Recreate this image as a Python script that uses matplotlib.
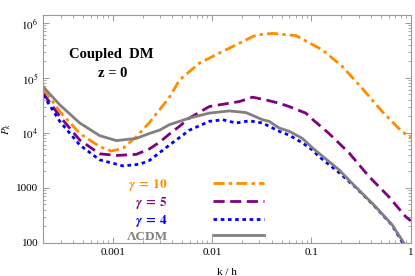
import numpy as np
import matplotlib
matplotlib.use("Agg")
import matplotlib.pyplot as plt
from matplotlib.ticker import FixedLocator, FuncFormatter, LogLocator, NullFormatter

plt.rcParams['font.family'] = ['Liberation Serif', 'DejaVu Serif']
plt.rcParams['mathtext.fontset'] = 'stix'

# log10(P_k)
k_lcdm = [2e-4, 2.94e-4, 4.67e-4, 7.41e-4, 1.09e-3, 1.73e-3, 2.35e-3, 2.96e-3, 3.73e-3, 5.92e-3, 9.4e-3,
          1.49e-2, 2.19e-2, 3.22e-2, 3.76e-2, 4.73e-2, 5.96e-2, 8.11e-2, 0.102, 0.119, 0.189, 0.278,
          0.441, 0.648, 0.849, 1.0]
p_lcdm = [4.84, 4.51, 4.18, 3.95, 3.86, 3.90, 3.99, 4.05, 4.15, 4.27, 4.36,
          4.40, 4.37, 4.24, 4.21, 4.09, 4.03, 3.90, 3.73, 3.63, 3.33, 3.02,
          2.66, 2.33, 2.00, 1.78]

k_g4 = [2e-4, 2.94e-4, 4.67e-4, 7.41e-4, 1.27e-3, 1.87e-3, 2.35e-3, 2.96e-3, 3.73e-3, 5.92e-3, 9.4e-3,
        1.28e-2, 1.74e-2, 2.37e-2, 3.22e-2, 3.76e-2, 4.73e-2, 5.96e-2, 8.11e-2, 0.102, 0.119, 0.189,
        0.278, 0.441, 0.648, 0.816, 1.0]
p_g4 = [4.69, 4.21, 3.78, 3.51, 3.40, 3.43, 3.50, 3.64, 3.78, 4.05, 4.21,
        4.24, 4.18, 4.22, 4.18, 4.12, 4.03, 3.96, 3.82, 3.69, 3.57, 3.28,
        3.01, 2.65, 2.32, 2.02, 1.78]

k_g5 = [2e-4, 2.94e-4, 4.67e-4, 7.41e-4, 1.09e-3, 1.73e-3, 2.35e-3, 2.96e-3, 3.73e-3, 4.7e-3, 5.92e-3,
        9.4e-3, 1.49e-2, 1.88e-2, 2.55e-2, 3.48e-2, 4.73e-2, 5.96e-2, 8.77e-2, 0.102, 0.150, 0.238,
        0.378, 0.600, 0.883, 1.0]
p_g5 = [4.72, 4.30, 3.87, 3.62, 3.59, 3.61, 3.71, 3.83, 3.98, 4.12, 4.27,
        4.48, 4.54, 4.57, 4.65, 4.60, 4.54, 4.48, 4.36, 4.25, 3.99, 3.64,
        3.21, 2.84, 2.48, 2.40]

k_g10 = [2e-4, 2.94e-4, 4.67e-4, 7.41e-4, 9.7e-4, 1.27e-3, 1.73e-3, 2.35e-3, 2.96e-3, 3.73e-3, 4.7e-3,
         7.46e-3, 1.18e-2, 1.88e-2, 2.76e-2, 4.03e-2, 6.96e-2, 0.129, 0.204, 0.324, 0.514, 0.816, 1.0]
p_g10 = [4.81, 4.39, 3.99, 3.75, 3.67, 3.72, 3.93, 4.19, 4.42, 4.65, 4.96,
         5.27, 5.45, 5.63, 5.78, 5.81, 5.77, 5.51, 5.21, 4.81, 4.39, 4.02, 3.92]

labels = [r'$\mathbfit{\gamma}\;\mathbf{=}\;\mathbf{10}$', r'$\mathbfit{\gamma}\;\mathbf{=}\;\mathbf{5}$',
          r'$\mathbfit{\gamma}\;\mathbf{=}\;\mathbf{4}$', 'ΛCDM']

fig = plt.figure(figsize=(4.15, 2.76), dpi=100)
ax = fig.add_axes([0.104, 0.120, 0.886, 0.826])

ax.plot(k_g10, 10 ** np.array(p_g10), color='#ff8c00', lw=2, dashes=[4, 1.5, 1.2, 1.5], label=labels[0])
ax.plot(k_g5, 10 ** np.array(p_g5), color='#800080', lw=2, dashes=[4, 2], label=labels[1])
ax.plot(k_g4, 10 ** np.array(p_g4), color='#0000ff', lw=2, dashes=[1.3, 1.3], label=labels[2])
ax.plot(k_lcdm, 10 ** np.array(p_lcdm), color='#808080', lw=2, label=labels[3])

ax.set_xscale('log')
ax.set_yscale('log')
ax.set_xlim(2e-4, 1)
ax.set_ylim(100, 1.4e6)

ax.xaxis.set_major_locator(FixedLocator([1e-3, 1e-2, 1e-1, 1]))
ax.xaxis.set_major_formatter(FuncFormatter(lambda v, p: {1e-3: '0.001', 1e-2: '0.01', 1e-1: '0.1', 1: '1'}.get(v, '')))
ax.xaxis.set_minor_locator(LogLocator(base=10, subs=np.arange(2, 10)))
ax.xaxis.set_minor_formatter(NullFormatter())

ytick_labels = {100: '100', 1000: '1000', 1e4: r'$10^4$', 1e5: r'$10^5$', 1e6: r'$10^6$'}
ax.yaxis.set_major_locator(FixedLocator(list(ytick_labels.keys())))
ax.yaxis.set_major_formatter(FuncFormatter(lambda v, p: ytick_labels.get(v, '')))
ax.yaxis.set_minor_locator(LogLocator(base=10, subs=np.arange(2, 10)))
ax.yaxis.set_minor_formatter(NullFormatter())

ax.tick_params(which='both', direction='in', top=True, right=True, color='#888888', labelsize=8)
ax.tick_params(which='major', length=4, width=0.6)
ax.tick_params(which='minor', length=2, width=0.5)
for s in ax.spines.values():
    s.set_color('#999999')
    s.set_linewidth(0.8)

ax.set_xlabel('k / h', fontsize=8, labelpad=8)
ax.set_ylabel(r'$P_k$', fontsize=8, labelpad=2)

ax.text(0.185, 0.825, 'Coupled  DM', transform=ax.transAxes, fontsize=10.5, fontweight='bold', ha='center', va='center')
ax.text(0.19, 0.745, 'z = 0', transform=ax.transAxes, fontsize=10.5, fontweight='bold', ha='center', va='center')

leg = ax.legend(loc='center', bbox_to_anchor=(0.415, 0.145), frameon=False, markerfirst=False,
                handlelength=3.9, handletextpad=3.4, labelspacing=0.15,
                labelcolor=['#ff8c00', '#800080', '#0000ff', '#808080'],
                prop={'weight': 'bold', 'size': 9.5})

fig.savefig('out.png', dpi=100)
